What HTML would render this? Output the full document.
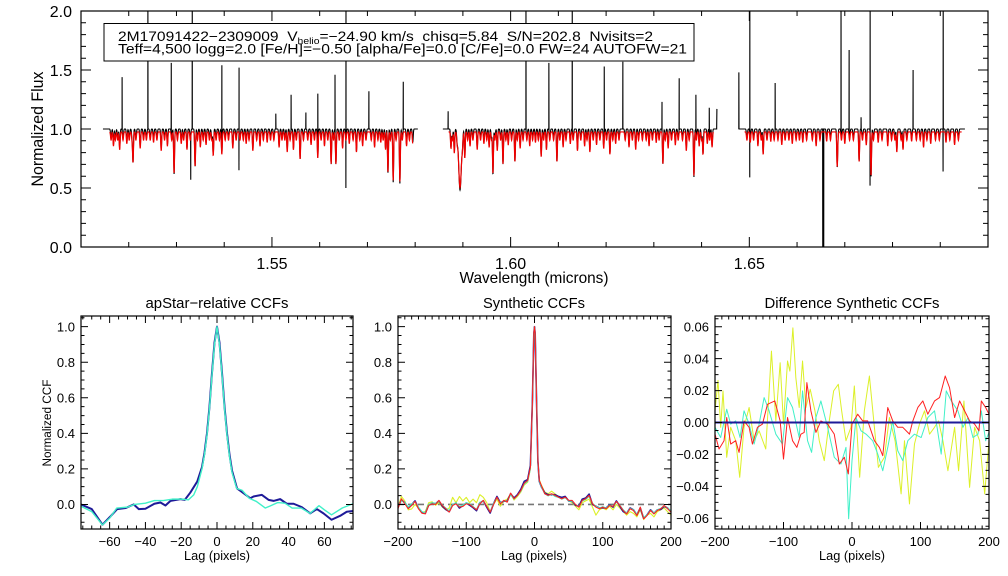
<!DOCTYPE html>
<html><head><meta charset="utf-8"><style>
html,body{margin:0;padding:0;background:#fff;}
svg{display:block;font-family:"Liberation Sans",sans-serif;}
text{white-space:pre;}
</style></head><body>
<svg id="fig" width="1008" height="576" viewBox="0 0 1008 576" xmlns="http://www.w3.org/2000/svg">
<defs>
<clipPath id="c0"><rect x="81" y="11" width="907" height="236"/></clipPath>
<clipPath id="c1"><rect x="81" y="316" width="272" height="213"/></clipPath>
<clipPath id="c2"><rect x="398" y="316" width="273" height="213"/></clipPath>
<clipPath id="c3"><rect x="715" y="316" width="274" height="213"/></clipPath>
</defs>
<rect width="1008" height="576" fill="#fff"/>
<g id="layer"></g>
<g id="infobox">
<rect x="104" y="23.5" width="590" height="37.5" fill="#fff" stroke="#000" stroke-width="1"/>
<text x="118" y="41" font-size="13.5" textLength="535" lengthAdjust="spacingAndGlyphs" xml:space="preserve">2M17091422−2309009  V<tspan font-size="9" dy="3">helio</tspan><tspan dy="-3">=−24.90 km/s  chisq=5.84  S/N=202.8  Nvisits=2</tspan></text>
<text x="118" y="53.5" font-size="13.5" textLength="569" lengthAdjust="spacingAndGlyphs">Teff=4,500 logg=2.0 [Fe/H]=−0.50 [alpha/Fe]=0.0 [C/Fe]=0.0 FW=24 AUTOFW=21</text>
</g>
</svg>
<script>
// ---------- spectrum data ----------
const blackChips = [[1.5146,1.5806],[1.5858,1.6432],[1.6478,1.6952]];
const redChips = [[1.5160,1.5795],[1.5870,1.6425],[1.6490,1.6945]];
const strongWl = [1.5209,1.5295,1.5339,1.5377,1.5395,1.5532,1.5559,1.5596,1.5624,1.5634,1.5743,1.5754,1.5768,1.5894,1.5904,1.5963,1.5984,1.6009,1.6064,1.6097,1.6166,1.6208,1.6319,1.6384,1.6403,1.6529,1.6684,1.6730,1.6755,1.6809,1.6822];
const strongDepth = [0.25,0.35,0.29,0.20,0.19,0.17,0.23,0.22,0.27,0.27,0.34,0.41,0.42,0.47,0.22,0.35,0.27,0.25,0.21,0.25,0.17,0.19,0.27,0.37,0.19,0.19,0.25,0.25,0.37,0.17,0.15];
const weakWl = [1.5168,1.5181,1.5196,1.5224,1.5252,1.5268,1.5281,1.5310,1.5322,1.5350,1.5362,1.5418,1.5446,1.5460,1.5475,1.5490,1.5515,1.5545,1.5582,1.5610,1.5648,1.5662,1.5677,1.5690,1.5715,1.5728,1.5738,1.5782,1.5795,
1.5875,1.5882,1.5915,1.5930,1.5944,1.5955,1.5972,1.5995,1.6020,1.6040,1.6052,1.6075,1.6110,1.6125,1.6140,1.6155,1.6180,1.6195,1.6220,1.6248,1.6262,1.6290,1.6305,1.6330,1.6345,1.6368,1.6395,1.6412,1.6422,
1.6502,1.6518,1.6545,1.6568,1.6590,1.6612,1.6640,1.6662,1.6700,1.6745,1.6770,1.6790,1.6840,1.6865,1.6880,1.6912,1.6930];
const weakDepth = [0.12,0.15,0.10,0.14,0.09,0.16,0.12,0.10,0.15,0.13,0.11,0.14,0.10,0.16,0.12,0.09,0.13,0.15,0.11,0.12,0.14,0.10,0.17,0.12,0.13,0.09,0.15,0.12,0.10,
0.14,0.18,0.12,0.15,0.10,0.13,0.16,0.11,0.14,0.12,0.09,0.15,0.13,0.10,0.16,0.12,0.11,0.14,0.10,0.13,0.15,0.12,0.09,0.14,0.11,0.16,0.12,0.10,0.13,
0.09,0.12,0.08,0.11,0.10,0.09,0.12,0.08,0.10,0.11,0.09,0.12,0.08,0.13,0.10,0.09,0.11];
const faintWl = [1.5163,1.5172,1.5177,1.5188,1.5201,1.5207,1.5215,1.5231,1.5237,1.5245,1.5259,1.5275,1.5290,1.5302,1.5315,1.5329,1.5344,1.5356,1.5369,1.5374,1.5383,1.5390,1.5402,1.5409,1.5425,1.5433,1.5440,1.5452,1.5468,1.5482,1.5497,1.5504,1.5521,1.5527,1.5538,1.5551,1.5566,1.5575,1.5589,1.5603,1.5617,1.5629,1.5641,1.5655,1.5670,1.5684,1.5697,1.5708,1.5722,1.5733,1.5748,1.5760,1.5773,1.5788,
1.5878,1.5888,1.5899,1.5910,1.5921,1.5937,1.5950,1.5960,1.5967,1.5979,1.5990,1.6002,1.6014,1.6026,1.6034,1.6046,1.6058,1.6069,1.6082,1.6090,1.6103,1.6116,1.6131,1.6147,1.6160,1.6173,1.6187,1.6201,1.6214,1.6227,1.6240,1.6255,1.6268,1.6276,1.6284,1.6297,1.6311,1.6324,1.6337,1.6351,1.6360,1.6374,1.6389,1.6400,1.6417,
1.6495,1.6509,1.6525,1.6537,1.6552,1.6560,1.6575,1.6583,1.6598,1.6605,1.6620,1.6632,1.6648,1.6670,1.6685,1.6693,1.6710,1.6718,1.6737,1.6760,1.6778,1.6798,1.6805,1.6818,1.6830,1.6850,1.6858,1.6872,1.6890,1.6898,1.6920,1.6938];
const faintDepth = [0.07];
const spikeWl = [1.5186,1.5240,1.5289,1.5333,1.5395,1.5431,1.5508,1.5540,1.5571,1.5596,1.5632,1.5655,1.5703,1.5775,1.5869,1.6032,1.6080,1.6129,1.6196,1.6235,1.6317,1.6353,1.6388,1.6416,1.6432,1.6478,1.6501,1.6554,1.6692,1.6709,1.6734,1.6753,1.6843,1.6906];
const spikeTop = [1.44,2.2,1.56,2.2,1.54,1.52,1.13,1.29,1.14,1.30,1.46,2.2,1.32,1.40,1.15,2.2,1.56,2.2,1.53,1.57,1.23,1.43,1.29,1.18,1.17,1.48,2.2,1.39,2.2,1.67,1.10,2.2,1.50,2.2];
const dipWl = [1.5330,1.5431,1.5655,1.6501,1.6654,1.6656,1.6753,1.6906];
const dipBottom = [0.57,0.65,0.50,0.59,-0.2,-0.2,0.52,0.64];

// ---------- CCF data ----------
const p1BlueLag = [-76,-70,-64,-59.5,-55.8,-51,-46.5,-43.7,-40,-35,-31.6,-28.8,-26,-20.4,-18,-14.9,-11,-8.4,-7,-5.6,-4.2,-2.8,-1.4,0,1.4,2.8,4.2,5.6,7,8.4,11.2,14,18.6,20.4,25,28.8,31.6,35.3,39,42.8,47.4,52,55.8,59.5,64,68.8,72.5,76];
const p1BlueVal = [0.0,-0.026,-0.114,-0.067,-0.026,-0.02,0.0,-0.026,-0.024,0.004,0.011,-0.006,0.02,0.03,0.026,0.067,0.13,0.21,0.29,0.40,0.55,0.74,0.91,1.0,0.91,0.74,0.55,0.40,0.28,0.19,0.09,0.07,0.035,0.045,0.054,0.026,0.02,0.03,0.004,0.004,-0.015,-0.05,-0.026,-0.05,-0.086,-0.064,-0.041,-0.037];
const p1CyanLag = [-76,-70,-64,-60,-56,-50,-46,-40,-35,-30,-25,-20,-16,-13,-11,-8.4,-7,-5.6,-4.2,-2.8,-1.4,0,1.4,2.8,4.2,5.6,7,8.4,11,14,18,22,27,30,34,38,42,47,52,57,60,64,70,76];
const p1CyanVal = [-0.01,-0.04,-0.115,-0.077,-0.02,-0.015,0.0,0.007,0.022,0.022,0.03,0.03,0.026,0.054,0.1,0.2,0.28,0.39,0.54,0.73,0.9,1.0,0.9,0.73,0.54,0.39,0.27,0.18,0.09,0.08,0.035,0.017,-0.02,-0.007,0.011,0.007,-0.02,-0.02,-0.05,-0.007,-0.03,-0.058,-0.02,0.004];

const p2Lag = [-200,-195,-190,-185,-180,-175,-170,-165,-160,-155,-150,-145,-140,-135,-130,-125,-120,-115,-110,-105,-100,-95,-90,-85,-80,-75,-70,-65,-60,-55,-50,-45,-40,-35,-30,-25,-20,-15,-10,-6,-3,-1,0,1,3,5,7,10,15,20,25,30,35,40,45,50,55,60,65,70,75,80,85,90,95,100,105,110,115,120,125,130,135,140,145,150,155,160,165,170,175,180,185,190,195,200];
const p2Red = [-0.024,0.032,0.004,-0.024,-0.006,0.017,-0.024,-0.049,-0.053,-0.006,0.004,0.0,0.023,-0.006,-0.024,-0.043,-0.006,0.004,-0.015,-0.011,0.004,0.0,-0.015,-0.03,0.004,0.023,-0.011,-0.043,0.0,0.041,0.004,0.023,0.013,0.064,0.032,0.051,0.079,0.12,0.135,0.21,0.586,0.962,1.0,0.962,0.586,0.248,0.135,0.107,0.06,0.051,0.06,0.051,0.041,0.032,0.041,0.023,0.023,0.0,-0.015,0.023,0.032,0.051,0.004,-0.015,-0.024,-0.015,-0.024,-0.006,-0.011,0.017,-0.006,-0.034,-0.053,-0.024,-0.034,-0.062,-0.015,-0.081,-0.062,-0.034,-0.053,-0.034,-0.024,-0.006,-0.024,-0.043];
const p2Navy = [-0.015,0.025,0.010,-0.018,0.000,0.020,-0.020,-0.045,-0.050,-0.002,0.008,0.004,0.020,-0.010,-0.028,-0.040,-0.002,0.008,-0.020,-0.006,0.008,-0.004,-0.018,-0.035,0.010,0.020,-0.015,-0.048,0.004,0.045,0.010,0.018,0.018,0.060,0.036,0.055,0.085,0.13,0.14,0.22,0.59,0.96,1.0,0.96,0.58,0.24,0.13,0.10,0.065,0.055,0.055,0.055,0.045,0.040,0.045,0.020,0.018,-0.004,-0.010,0.030,0.036,0.058,0.000,-0.010,-0.020,-0.018,-0.020,-0.002,-0.015,0.020,-0.010,-0.040,-0.050,-0.020,-0.030,-0.058,-0.020,-0.078,-0.058,-0.030,-0.050,-0.030,-0.028,-0.010,-0.020,-0.040];
const p2Cyan = [-0.010,0.020,0.012,-0.015,0.004,0.015,-0.015,-0.040,-0.048,0.000,0.010,0.006,0.018,-0.004,-0.020,-0.036,0.000,0.010,-0.012,-0.004,0.010,0.004,-0.012,-0.028,0.012,0.018,-0.008,-0.040,0.006,0.038,0.010,0.020,0.015,0.055,0.030,0.050,0.075,0.115,0.13,0.20,0.58,0.96,1.0,0.96,0.58,0.24,0.13,0.10,0.06,0.048,0.058,0.045,0.040,0.030,0.038,0.020,0.018,0.000,-0.012,0.020,0.028,0.045,0.006,-0.010,-0.020,-0.012,-0.020,-0.004,-0.010,0.014,-0.004,-0.030,-0.048,-0.022,-0.030,-0.055,-0.018,-0.072,-0.058,-0.032,-0.048,-0.030,-0.022,-0.008,-0.020,-0.036];
const p2Yellow = [-0.010,0.045,0.020,-0.030,-0.025,0.000,-0.020,-0.045,-0.040,0.010,0.015,-0.005,0.010,-0.015,-0.030,-0.020,0.040,0.010,0.045,0.020,0.040,0.010,0.030,0.010,0.055,0.040,0.010,-0.040,0.000,0.030,-0.010,0.020,0.030,0.060,0.025,0.045,0.070,0.110,0.125,0.20,0.58,0.95,0.98,0.95,0.57,0.24,0.14,0.11,0.07,0.060,0.075,0.060,0.045,0.030,0.045,0.020,0.010,-0.010,-0.030,0.010,0.020,0.030,-0.015,-0.060,-0.030,-0.020,-0.030,-0.010,-0.030,0.000,-0.020,-0.040,-0.060,-0.040,-0.050,-0.070,-0.030,-0.085,-0.060,-0.050,-0.070,-0.040,-0.030,-0.020,-0.040,-0.060];
const p2Zero = [0];

const p3NavyLag = [-200,200];
const p3NavyVal = [0,0];
const p3CyanLag = [-200,-191.7,-182.9,-177.1,-169.8,-163.4,-157.6,-150.2,-142.9,-135.6,-128.3,-121,-111.2,-101.5,-94.1,-86.8,-77.1,-72.2,-64.9,-59,-52.7,-45.4,-35.6,-25.9,-16.1,-8.8,-4.9,0,5.9,13.2,20.5,30.2,37.6,44.9,52.2,59.5,66.8,74.1,81.5,91.2,101,110.7,120.5,130.2,137.6,144.9,154.6,162,169.3,176.6,183.9,188.8,195.1,200];
const p3CyanVal = [-0.003,-0.0094,0.0083,-0.001,0.001,-0.0094,0.0073,-0.001,-0.0135,-0.001,0.0156,0.0073,-0.0073,-0.0135,0.0156,0.0094,-0.0094,0.0198,-0.0114,-0.0187,0.0031,0.0135,-0.003,-0.0218,-0.026,-0.0156,-0.0603,-0.0239,0.0031,-0.0052,-0.0073,-0.0114,-0.0198,-0.0302,-0.0156,0.001,-0.0177,-0.0239,-0.0114,-0.0073,-0.0094,0.0031,0.0073,-0.0198,0.0198,0.0135,0.0073,-0.003,0.0031,-0.0094,-0.0073,0.0073,-0.0114,-0.0062];
const p3YellowLag = [-200,-195.6,-191.7,-188.3,-182.9,-177.1,-169.8,-163.9,-157.6,-150.2,-142.9,-135.6,-125.9,-117.6,-111.2,-104.9,-100,-94.1,-90.7,-86.3,-82,-77.1,-72.2,-67.3,-61,-54.1,-47.8,-40.5,-33.2,-26.8,-20,-15.1,-8.8,-1.5,3.4,11.2,18,25.4,32.7,38.5,47.3,54.6,62.9,71.7,76.6,83.9,91.2,98.5,105.9,113.2,120.5,126.3,132.7,140,149.8,155.6,163.4,171.7,179,186.3,193.7,200];
const p3YellowVal = [0.0073,0.0264,-0.003,0.0198,-0.0218,-0.003,-0.0114,-0.0343,-0.003,0.0094,-0.0114,-0.0052,-0.0166,0.0447,0.001,0.0374,-0.001,0.0385,0.0322,0.0593,0.0281,0.0094,0.0385,0.0094,0.0208,0.0073,-0.0114,-0.0239,0.001,0.0198,0.0239,0.0073,-0.0114,-0.003,0.0229,-0.0343,0.0073,0.0291,-0.003,-0.0281,-0.0218,0.0031,-0.0114,-0.0447,-0.0114,-0.051,-0.0135,-0.001,0.0073,-0.0073,-0.003,0.001,-0.0114,-0.0302,-0.003,-0.0302,0.0135,-0.0406,-0.003,-0.0114,-0.0447,-0.0114];
const p3RedLag = [-200,-194.1,-186.8,-182.9,-177.1,-169.8,-164.9,-157.6,-150.2,-145.4,-138,-130.7,-123.4,-112.7,-104.9,-100,-94.1,-86.8,-80.5,-74.6,-69.8,-65.9,-60,-52.7,-45.4,-35.6,-25.9,-18.5,-11.2,-5.4,0,8.3,15.6,22.9,32.7,40,44.9,52.2,59.5,66.8,74.1,83.9,88.8,96.1,103.4,110.7,120.5,127.8,136.1,142.4,149.8,157.1,164.4,171.7,179,185.4,188.8,195.1,200];
const p3RedVal = [-0.0073,-0.0166,-0.0114,0.0031,-0.0135,-0.0114,-0.0187,0.001,-0.003,-0.0135,-0.003,-0.001,0.0114,0.0135,0.001,-0.0229,0.0031,-0.0114,-0.0156,-0.0073,-0.0062,0.025,0.0073,-0.0062,0.001,-0.001,-0.0073,-0.026,-0.0218,-0.0322,-0.001,0.0052,0.001,0.001,-0.0114,-0.0156,-0.0208,0.0094,0.001,-0.003,-0.003,-0.0073,0.001,0.0094,0.0135,0.0052,0.0135,0.0156,0.0291,0.0218,0.0031,0.0135,0.0073,0.001,-0.001,-0.0052,0.0135,0.0094,0.0052];

// ---------- tick labels ----------
const topXTicks = [1.55,1.60,1.65];
const topXLabels = ["1.55","1.60","1.65"];
const topYTicks = [0,0.5,1.0,1.5,2.0];
const topYLabels = ["0.0","0.5","1.0","1.5","2.0"];
const p1XTicks = [-60,-40,-20,0,20,40,60];
const p1XLabels = ["−60","−40","−20","0","20","40","60"];
const ccfYTicks = [0,0.2,0.4,0.6,0.8,1.0];
const ccfYLabels = ["0.0","0.2","0.4","0.6","0.8","1.0"];
const p2XTicks = [-200,-100,0,100,200];
const p2XLabels = ["−200","−100","0","100","200"];
const p3YTicks = [-0.06,-0.04,-0.02,0,0.02,0.04,0.06];
const p3YLabels = ["−0.06","−0.04","−0.02","0.00","0.02","0.04","0.06"];

// ---------- helpers ----------
const NS = "http://www.w3.org/2000/svg";
const layer = document.getElementById('layer');
function mk(tag, attrs, parent) {
  const e = document.createElementNS(NS, tag);
  for (const k in attrs) e.setAttribute(k, attrs[k]);
  (parent || layer).appendChild(e);
  return e;
}
const P0 = {x0:81,x1:988,y0:11,y1:247,xmin:1.51,xmax:1.70,ymin:0,ymax:2};
const P1 = {x0:81,x1:353,y0:316,y1:529,xmin:-76,xmax:76,ymin:-0.138,ymax:1.06};
const P2 = {x0:398,x1:671,y0:316,y1:529,xmin:-200,xmax:200,ymin:-0.138,ymax:1.06};
const P3 = {x0:715,x1:989,y0:316,y1:529,xmin:-200,xmax:200,ymin:-0.0667,ymax:0.0667};
function sx(p, v) { return p.x0 + (v - p.xmin) / (p.xmax - p.xmin) * (p.x1 - p.x0); }
function sy(p, v) { return p.y1 - (v - p.ymin) / (p.ymax - p.ymin) * (p.y1 - p.y0); }

function axes(p, name, xt, xl, xminor, yt, yl, yminor, fs, maj, mnr, xlabOff, ylabOff) {
  const g = mk('g', {});
  
  
  let d = '';
  const eps = 1e-9;
  for (let v = Math.ceil(p.xmin / xminor - eps) * xminor; v <= p.xmax + eps; v += xminor) {
    const X = sx(p, v).toFixed(2);
    const isMaj = xt.some(t => Math.abs(t - v) < xminor / 10);
    const L = isMaj ? maj : mnr;
    d += `M${X},${p.y1}v${-L}M${X},${p.y0}v${L}`;
  }
  for (let v = Math.ceil(p.ymin / yminor - eps) * yminor; v <= p.ymax + eps; v += yminor) {
    const Y = sy(p, v).toFixed(2);
    const isMaj = yt.some(t => Math.abs(t - v) < yminor / 10);
    const L = isMaj ? maj : mnr;
    d += `M${p.x0},${Y}h${L}M${p.x1},${Y}h${-L}`;
  }
  mk('path', {d: d, stroke: '#000', 'stroke-width': 1, fill: 'none'}, g);
  mk('rect', {x: p.x0, y: p.y0, width: p.x1 - p.x0, height: p.y1 - p.y0, fill: 'none', stroke: '#000', 'stroke-width': 1.2}, g);
  xt.forEach((v, i) => {
    const t = mk('text', {x: sx(p, v), y: p.y1 + xlabOff, 'font-size': fs, 'text-anchor': 'middle'}, g);
    
    
    t.textContent = xl[i];
  });
  yt.forEach((v, i) => {
    const t = mk('text', {x: p.x0 - ylabOff, y: sy(p, v) + fs * 0.36, 'font-size': fs, 'text-anchor': 'end'}, g);
    
    
    t.textContent = yl[i];
  });
}
function label(x, y, txt, fs, name, rot, len) {
  const a = {x: x, y: y, 'font-size': fs, 'text-anchor': 'middle'};
  if (rot) a.transform = `rotate(-90 ${x} ${y})`;
  if (len) { a.textLength = len; a.lengthAdjust = 'spacingAndGlyphs'; }
  const t = mk('text', a);
  
  
  t.textContent = txt;
}
function poly(p, xs, ys, color, w, clip, name, extra) {
  let d = '';
  for (let i = 0; i < xs.length; i++) d += (i ? 'L' : 'M') + sx(p, xs[i]).toFixed(2) + ',' + sy(p, ys[i]).toFixed(2);
  const a = {d: d, stroke: color, 'stroke-width': w, fill: 'none', 'clip-path': `url(#${clip})`, 'stroke-linejoin': 'round'};
  if (extra) Object.assign(a, extra);
  const e = mk('path', a);
  
  
}

// ---------- top spectrum ----------
function absorb(l) {
  let f = 0;
  for (let i = 0; i < strongWl.length; i++) {
    const s = Math.abs(strongWl[i] - 1.5894) < 1e-6 ? 0.00028 : 0.00009;
    const z = (l - strongWl[i]) / s; if (z * z < 30) f += strongDepth[i] * Math.exp(-0.5 * z * z);
  }
  for (let i = 0; i < weakWl.length; i++) {
    const z = (l - weakWl[i]) / 0.00009; if (z * z < 30) f += weakDepth[i] * Math.exp(-0.5 * z * z);
  }
  for (let i = 0; i < faintWl.length; i++) {
    const z = (l - faintWl[i]) / 0.0001; if (z * z < 30) f += faintDepth[0] * Math.exp(-0.5 * z * z);
  }
  return f;
}
function spectrum(chips, cont, scale, withSpikes) {
  const xs = [], ys = [];
  chips.forEach((c, ci) => {
    const pts = [];
    for (let l = c[0]; l <= c[1]; l += 0.00004) pts.push([l, cont - scale * absorb(l)]);
    if (withSpikes) {
      spikeWl.forEach((s, i) => { if (s >= c[0] && s <= c[1]) pts.push([s + 0.00001, spikeTop[i]]); });
      dipWl.forEach((s, i) => { if (s >= c[0] && s <= c[1]) pts.push([s - 0.00001, dipBottom[i]]); });
    }
    pts.sort((a, b) => a[0] - b[0]);
    if (ci > 0) { xs.push(NaN); ys.push(NaN); }
    pts.forEach(q => { xs.push(q[0]); ys.push(q[1]); });
  });
  return [xs, ys];
}
function specPath(arr, color, w, name) {
  let d = '', pen = false;
  for (let i = 0; i < arr[0].length; i++) {
    if (isNaN(arr[0][i])) { pen = false; continue; }
    d += (pen ? 'L' : 'M') + sx(P0, arr[0][i]).toFixed(2) + ',' + sy(P0, arr[1][i]).toFixed(2);
    pen = true;
  }
  const e = mk('path', {d: d, stroke: color, 'stroke-width': w, fill: 'none', 'clip-path': 'url(#c0)'});
  
  
}
specPath(spectrum(blackChips, 1.0, 1.1, true), '#000', 1.1, 'observed-spectrum');
specPath(spectrum(redChips, 0.975, 1.0, false), '#f00000', 1.2, 'model-spectrum');
axes(P0, 'spectrum', topXTicks, topXLabels, 0.01, topYTicks, topYLabels, 0.1, 16, 10, 5, 22, 9);
label(534, 283, 'Wavelength (microns)', 16, 'x-axis-title', false, 149);
label(43, 129, 'Normalized Flux', 17, 'y-axis-title', true, 115);
document.getElementById('fig').appendChild(document.getElementById('infobox'));

// ---------- panel 1 ----------
poly(P1, p1BlueLag, p1BlueVal, '#1e1a98', 2, 'c1', 'ccf-line-apstar');
poly(P1, p1CyanLag, p1CyanVal, '#40f0c8', 1.4, 'c1', 'ccf-line-apstar-2');
axes(P1, 'apstar-ccf', p1XTicks, p1XLabels, 5, ccfYTicks, ccfYLabels, 0.05, 13, 7, 3.5, 17, 6);
label(217, 308, 'apStar−relative CCFs', 15, 'panel1-title', false, 143);
label(217, 560, 'Lag (pixels)', 13, 'panel1-x-title', false, 66);
label(51, 423, 'Normalized CCF', 11.5, 'panel1-y-title', true, 87);

// ---------- panel 2 ----------
poly(P2, [-200, 200], [p2Zero[0], p2Zero[0]], '#777', 1.6, 'c2', 'zero-reference-line', {'stroke-dasharray': '6,4'});
poly(P2, p2Lag, p2Yellow, '#dcf028', 1.1, 'c2', 'synthetic-ccf-yellow');
poly(P2, p2Lag, p2Navy, '#1e1a98', 1.6, 'c2', 'synthetic-ccf-navy');
poly(P2, p2Lag, p2Cyan, '#40f0c8', 1.1, 'c2', 'synthetic-ccf-cyan');
poly(P2, p2Lag, p2Red, '#ff2020', 1.1, 'c2', 'synthetic-ccf-red');
axes(P2, 'synthetic-ccf', p2XTicks, p2XLabels, 10, ccfYTicks, ccfYLabels, 0.05, 13, 7, 3.5, 17, 6);
label(534, 308, 'Synthetic CCFs', 15, 'panel2-title', false, 102);
label(534, 560, 'Lag (pixels)', 13, 'panel2-x-title', false, 66);

// ---------- panel 3 ----------
poly(P3, p3YellowLag, p3YellowVal, '#dcf028', 1, 'c3', 'diff-ccf-yellow');
poly(P3, p3CyanLag, p3CyanVal, '#40f0c8', 1, 'c3', 'diff-ccf-cyan');
poly(P3, p3RedLag, p3RedVal, '#ff2020', 1, 'c3', 'diff-ccf-red');
poly(P3, p3NavyLag, p3NavyVal, '#1e1a98', 2, 'c3', 'diff-ccf-navy');
axes(P3, 'difference-ccf', p2XTicks, p2XLabels, 10, p3YTicks, p3YLabels, 0.005, 13, 7, 3.5, 17, 6);
label(852, 308, 'Difference Synthetic CCFs', 15, 'panel3-title', false, 175);
label(852, 560, 'Lag (pixels)', 13, 'panel3-x-title', false, 66);
</script>
</body></html>
